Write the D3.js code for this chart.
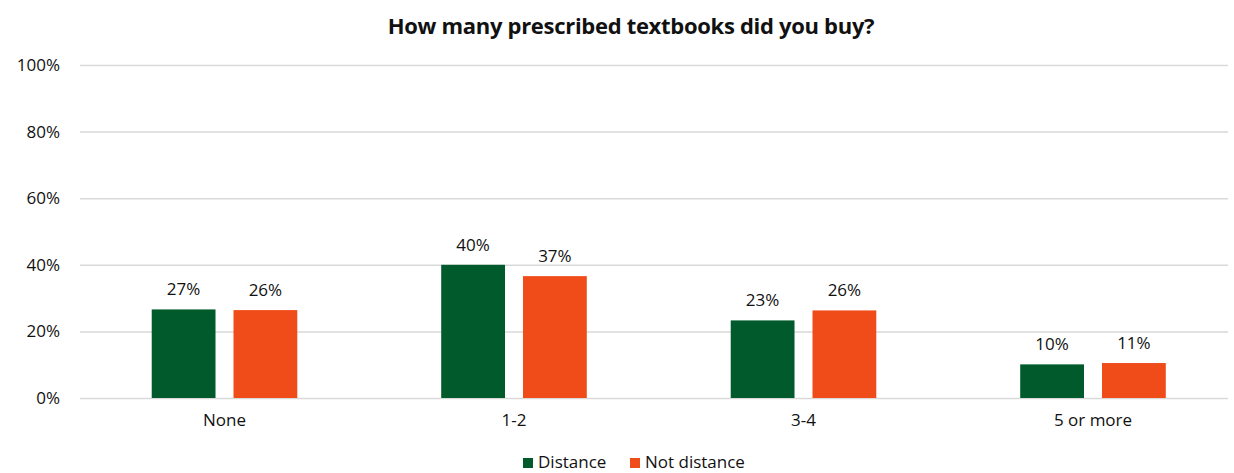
<!DOCTYPE html>
<html><head><meta charset="utf-8">
<script src="https://cdn.jsdelivr.net/npm/d3@7"></script>
<style>body{margin:0;background:#fff}svg{display:block}text{font-family:"Open Sans","Noto Sans",sans-serif;fill:#111}</style>
</head><body><svg id="c" width="1234" height="473"></svg>
<script>
const categories = ["None", "1-2", "3-4", "5 or more"];
const seriesNames = ["Distance", "Not distance"];
const distance = [26.6, 40.0, 23.3, 10.1];
const notDistance = [26.4, 36.6, 26.3, 10.5];
const yTicks = [0, 20, 40, 60, 80, 100];
const colors = ["#005a2b", "#f04c1a"];

const svg = d3.select("#c");
const gridL = 80, gridR = 1228;
const x0 = d3.scaleBand().domain(categories).range([79.75, 1237.75]).paddingInner(0).paddingOuter(0);
const x1 = d3.scaleBand().domain(seriesNames).range([0, x0.bandwidth()]).paddingInner(0.22).paddingOuter(0.88);
const y = d3.scaleLinear().domain([0, 100]).range([398, 65]);

svg.append("text").attr("x", 631).attr("y", 34).attr("text-anchor", "middle")
  .style("font-weight", "bold").style("font-size", "22px").style("letter-spacing", "-0.3px")
  .text("How many prescribed textbooks did you buy?");

const yAxis = svg.append("g").attr("transform", `translate(${gridL},0)`)
  .call(d3.axisLeft(y).tickValues(yTicks).tickFormat(d => d + "%").tickSize(-(gridR - gridL)).tickPadding(20));
yAxis.select(".domain").remove();
yAxis.selectAll("line").attr("stroke", "#d9d9d9").attr("stroke-width", 1.5);
yAxis.selectAll("text").style("font-size", "17px").attr("fill", "#111");

const xAxis = svg.append("g").attr("transform", `translate(0,398)`)
  .call(d3.axisBottom(x0).tickSize(0).tickPadding(16));
xAxis.select(".domain").remove();
xAxis.selectAll("text").style("font-size", "17px").attr("fill", "#111");

const data = categories.map((c, i) => ({c, vals: [distance[i], notDistance[i]]}));
const g = svg.selectAll(".cat").data(data).enter().append("g").attr("transform", d => `translate(${x0(d.c)},0)`);
seriesNames.forEach((s, si) => {
  g.append("rect").attr("x", x1(s)).attr("width", x1.bandwidth())
    .attr("y", d => y(d.vals[si])).attr("height", d => y(0) - y(d.vals[si])).attr("fill", colors[si]);
  g.append("text").attr("x", x1(s) + x1.bandwidth() / 2).attr("y", d => y(d.vals[si]) - 14)
    .attr("text-anchor", "middle").style("font-size", "17px").text(d => Math.round(d.vals[si]) + "%");
});

const leg = svg.append("g");
const lx = [523, 630];
seriesNames.forEach((s, i) => {
  leg.append("rect").attr("x", lx[i]).attr("y", 458).attr("width", 10).attr("height", 10).attr("fill", colors[i]);
  leg.append("text").attr("x", lx[i] + 15).attr("y", 467.5).style("font-size", "17px").text(s);
});
</script></body></html>
